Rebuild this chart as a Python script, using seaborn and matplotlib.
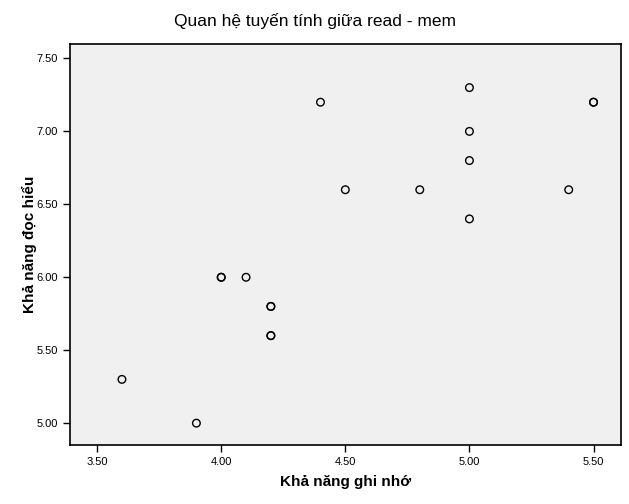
import pandas as pd
import matplotlib
matplotlib.use("Agg")
import matplotlib.pyplot as plt
import seaborn as sns

# data (duplicates are overlapping points)
mem = [3.6, 3.9, 4.0, 4.0, 4.1, 4.2, 4.2, 4.2, 4.2, 4.4, 4.5, 4.8,
       5.0, 5.0, 5.0, 5.0, 5.4, 5.5, 5.5]
read = [5.3, 5.0, 6.0, 6.0, 6.0, 5.8, 5.8, 5.6, 5.6, 7.2, 6.6, 6.6,
        7.3, 7.0, 6.8, 6.4, 6.6, 7.2, 7.2]
x_ticks = [3.5, 4.0, 4.5, 5.0, 5.5]
y_ticks = [5.0, 5.5, 6.0, 6.5, 7.0, 7.5]

df = pd.DataFrame({"mem": mem, "read": read})

sns.set_style("ticks")
plt.rcParams["font.family"] = ["Liberation Sans", "DejaVu Sans"]
plt.rcParams["text.color"] = "black"
plt.rcParams["axes.labelcolor"] = "black"

fig = plt.figure(figsize=(6.29, 5.04), dpi=100)
ax = fig.add_axes([0.111, 0.117, 0.876, 0.796])
ax.set_facecolor("#f0f0f0")

sns.scatterplot(x="mem", y="read", data=df, ax=ax, marker="o",
                facecolor="none", edgecolor="black", linewidth=1.0, s=30)

ax.set_xlim(3.39, 5.61)
ax.set_ylim(4.85, 7.60)
ax.set_xticks(x_ticks)
ax.set_xticklabels(["%.2f" % t for t in x_ticks])
ax.set_yticks(y_ticks)
ax.set_yticklabels(["%.2f" % t for t in y_ticks])
ax.tick_params(labelsize=8, length=5, width=1, colors="black")

for s in ax.spines.values():
    s.set_color("black")
    s.set_linewidth(1.2)

ax.set_xlabel("Khả năng ghi nhớ", fontsize=11, fontweight="bold", labelpad=6)
ax.set_ylabel("Khả năng đọc hiểu", fontsize=11, fontweight="bold", labelpad=0)
fig.suptitle("Quan hệ tuyến tính giữa read - mem", fontsize=12.5,
             color="black", x=0.5, y=0.975)

fig.savefig("out.png", dpi=100)
